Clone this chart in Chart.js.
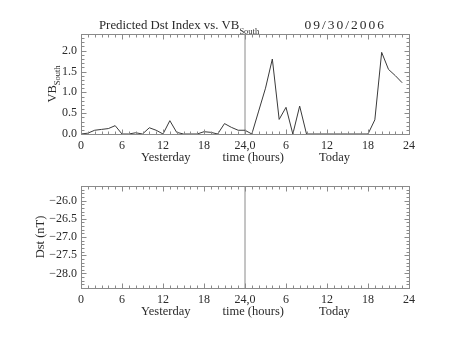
<!DOCTYPE html>
<html>
<head>
<meta charset="utf-8">
<script src="https://cdn.jsdelivr.net/npm/chart.js@4.4.1/dist/chart.umd.min.js"></script>
<style>
  html, body { margin: 0; padding: 0; background: #fff; }
  #wrap { position: relative; width: 453px; height: 340px; }
  canvas { position: absolute; left: 0; }
</style>
</head>
<body>
<div id="wrap">
  <canvas id="vbChart" width="453" height="170" style="top:0"></canvas>
  <canvas id="dstChart" width="453" height="170" style="top:170px"></canvas>
</div>
<script>
// hours since start of yesterday (0-23 yesterday, 24-47 today)
const hours = [0, 1, 2, 3, 4, 5, 6, 7, 8, 9, 10, 11, 12, 13, 14, 15, 16, 17, 18, 19, 20, 21, 22, 23,
               24, 25, 26, 27, 28, 29, 30, 31, 32, 33, 34, 35, 36, 37, 38, 39, 40, 41, 42, 43, 44, 45, 46, 47];
const vbSouth = [0.00, 0.02, 0.09, 0.11, 0.13, 0.20, 0.00, 0.00, 0.03, 0.00, 0.15, 0.09,
                 0.00, 0.32, 0.04, 0.00, 0.00, 0.00, 0.055, 0.04, 0.00, 0.25, 0.16, 0.09,
                 0.09, 0.00, 0.55, 1.10, 1.80, 0.35, 0.64, 0.00, 0.67, 0.00, 0.00, 0.00,
                 0.00, 0.00, 0.00, 0.00, 0.00, 0.00, 0.00, 0.34, 1.96, 1.55, 1.40, 1.23];
const dstValues = [];   // no Dst prediction plotted for this day
const dividerHour = 24;

const xTickValues = [0, 6, 12, 18, 24, 30, 36, 42, 48];
const xTickLabels = ['0', '6', '12', '18', '24,0', '6', '12', '18', '24'];
const vbTickValues = [0, 0.5, 1.0, 1.5, 2.0];
const vbTickLabels = ['0.0', '0.5', '1.0', '1.5', '2.0'];
const dstTickValues = [-26.0, -26.5, -27.0, -27.5, -28.0];
const dstTickLabels = ['\u221226.0', '\u221226.5', '\u221227.0', '\u221227.5', '\u221228.0'];

const FONT = '"Liberation Serif", "Times New Roman", serif';
const INK = '#2b2b2b';
const FRAME = '#8a8a8a';

// рамка в стиле IDL: тики внутрь на всех четырёх сторонах + подписи
const idlFrame = {
  id: 'idlFrame',
  afterDraw(chart, args, opts) {
    const { ctx, chartArea: a, scales: { x, y } } = chart;
    ctx.save();
    ctx.strokeStyle = FRAME;
    ctx.lineWidth = 1;
    const L = Math.round(a.left) + 0.5, R = Math.round(a.right) + 0.5;
    const T = Math.round(a.top) + 0.5, B = Math.round(a.bottom) + 0.5;
    ctx.strokeRect(L, T, R - L, B - T);
    ctx.beginPath();
    for (let h = x.min; h <= x.max; h++) {
      const px = Math.round(x.getPixelForValue(h)) + 0.5;
      const len = h % 6 === 0 ? 5 : 3;
      ctx.moveTo(px, B); ctx.lineTo(px, B - len);
      ctx.moveTo(px, T); ctx.lineTo(px, T + len);
    }
    const i0 = Math.ceil(y.min * 10 - 1e-6), i1 = Math.floor(y.max * 10 + 1e-6);
    for (let i = i0; i <= i1; i++) {
      const py = Math.round(y.getPixelForValue(i / 10)) + 0.5;
      const len = i % 5 === 0 ? 5 : 3;
      ctx.moveTo(L, py); ctx.lineTo(L + len, py);
      ctx.moveTo(R, py); ctx.lineTo(R - len, py);
    }
    ctx.stroke();

    ctx.fillStyle = INK;
    ctx.textBaseline = 'alphabetic';
    ctx.font = '12.5px ' + FONT;
    ctx.textAlign = 'center';
    opts.bottomLabels.forEach(l => {
      ctx.fillText(l.text, x.getPixelForValue(l.hour), a.bottom + 27);
    });

    // подпись оси Y (с нижним индексом)
    ctx.save();
    ctx.translate(opts.yTitleX, (a.top + a.bottom) / 2);
    ctx.rotate(-Math.PI / 2);
    ctx.font = '12.5px ' + FONT;
    const w1 = ctx.measureText(opts.yTitle).width;
    ctx.font = '8.5px ' + FONT;
    const w2 = opts.ySub ? ctx.measureText(opts.ySub).width : 0;
    const start = -(w1 + w2) / 2;
    ctx.textAlign = 'left';
    ctx.font = '12.5px ' + FONT;
    ctx.fillText(opts.yTitle, start, 4);
    if (opts.ySub) {
      ctx.font = '8.5px ' + FONT;
      ctx.fillText(opts.ySub, start + w1, 8);
    }
    ctx.restore();

    if (opts.title) {
      ctx.textAlign = 'left';
      ctx.font = '12.8px ' + FONT;
      ctx.fillText(opts.title, 99, 29);
      const tw = ctx.measureText(opts.title).width;
      ctx.font = '8.5px ' + FONT;
      ctx.fillText(opts.titleSub, 99 + tw, 34);
      ctx.font = '13.5px ' + FONT;
      ctx.letterSpacing = '2px';
      ctx.textAlign = 'right';
      ctx.fillText(opts.date, 386, 29);
    }
    ctx.restore();
  }
};

function xScale(height) {
  return {
    type: 'linear', min: 0, max: 48,
    grid: { display: false, drawTicks: false, tickLength: 0 }, border: { display: false },
    afterBuildTicks: s => { s.ticks = xTickValues.map(v => ({ value: v })); },
    afterFit: s => { s.height = height; },
    ticks: {
      autoSkip: false, maxRotation: 0, padding: 5, color: INK,
      font: { family: FONT, size: 12 },
      callback: v => xTickLabels[xTickValues.indexOf(v)]
    }
  };
}

function yScale(min, max, tv, tl) {
  return {
    type: 'linear', min: min, max: max,
    grid: { display: false, drawTicks: false, tickLength: 0 }, border: { display: false },
    afterBuildTicks: s => { s.ticks = tv.map(v => ({ value: v })); },
    afterFit: s => { s.width = 81; },
    ticks: {
      padding: 4, color: INK,
      font: { family: FONT, size: 12 },
      callback: v => tl[tv.indexOf(v)]
    }
  };
}

const bottomLabels = [
  { hour: 12.4, text: 'Yesterday' },
  { hour: 25.2, text: 'time (hours)' },
  { hour: 37.1, text: 'Today' }
];

// Верхний график: VB South
new Chart(document.getElementById('vbChart'), {
  type: 'line',
  data: {
    datasets: [
      {
        data: hours.map((h, i) => ({ x: h, y: vbSouth[i] })),
        borderColor: '#3a3a3a', borderWidth: 1, pointRadius: 0, tension: 0
      },
      {
        data: [{ x: dividerHour, y: 0 }, { x: dividerHour, y: 2.4 }],
        borderColor: '#8a8a8a', borderWidth: 1, pointRadius: 0
      }
    ]
  },
  options: {
    responsive: false, animation: false, devicePixelRatio: 1,
    layout: { padding: { top: 34, right: 44, left: 0, bottom: 0 } },
    plugins: {
      legend: { display: false }, tooltip: { enabled: false },
      idlFrame: {
        title: 'Predicted Dst Index vs. VB', titleSub: 'South', date: '09/30/2006',
        yTitle: 'VB', ySub: 'South', yTitleX: 52, bottomLabels: bottomLabels
      }
    },
    scales: {
      x: xScale(36),
      y: yScale(0, 2.4, vbTickValues, vbTickLabels)
    }
  },
  plugins: [idlFrame]
});

// Нижний график: Dst
new Chart(document.getElementById('dstChart'), {
  type: 'line',
  data: {
    datasets: [
      {
        data: dstValues.map((v, i) => ({ x: hours[i], y: v })),
        borderColor: '#3a3a3a', borderWidth: 1, pointRadius: 0
      },
      {
        data: [{ x: dividerHour, y: -28.4 }, { x: dividerHour, y: -25.6 }],
        borderColor: '#8a8a8a', borderWidth: 1, pointRadius: 0
      }
    ]
  },
  options: {
    responsive: false, animation: false, devicePixelRatio: 1,
    layout: { padding: { top: 16, right: 44, left: 0, bottom: 0 } },
    plugins: {
      legend: { display: false }, tooltip: { enabled: false },
      idlFrame: { yTitle: 'Dst (nT)', ySub: '', yTitleX: 40, bottomLabels: bottomLabels }
    },
    scales: {
      x: xScale(52),
      y: yScale(-28.4, -25.6, dstTickValues, dstTickLabels)
    }
  },
  plugins: [idlFrame]
});
</script>
</body>
</html>
